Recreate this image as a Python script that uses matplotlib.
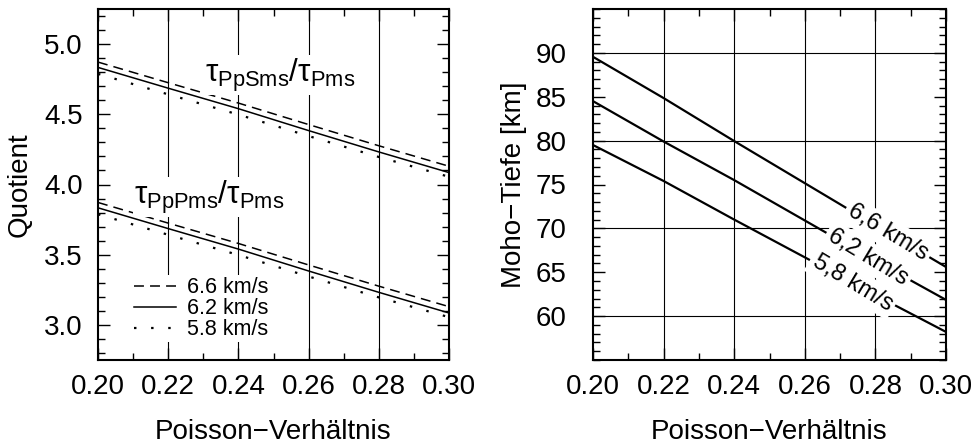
import matplotlib
matplotlib.use("Agg")
import matplotlib.pyplot as plt
import numpy as np
from matplotlib.ticker import MultipleLocator, FormatStrFormatter

plt.rcParams['font.family'] = ['Liberation Sans', 'DejaVu Sans']
plt.rcParams['mathtext.fontset'] = 'custom'
plt.rcParams['mathtext.rm'] = 'Liberation Sans'
plt.rcParams['mathtext.it'] = 'Liberation Sans:italic'
plt.rcParams['mathtext.bf'] = 'Liberation Sans:bold'

# ---------------- data ----------------
poisson = [0.20, 0.22, 0.24, 0.26, 0.28, 0.30]

# left panel: quotients
ppsms_66 = [4.872, 4.725, 4.580, 4.427, 4.276, 4.130]
ppsms_62 = [4.834, 4.686, 4.540, 4.384, 4.232, 4.085]
ppsms_58 = [4.788, 4.642, 4.498, 4.345, 4.196, 4.055]
pppms_66 = [3.872, 3.725, 3.580, 3.427, 3.276, 3.130]
pppms_62 = [3.834, 3.686, 3.540, 3.384, 3.232, 3.085]
pppms_58 = [3.788, 3.642, 3.498, 3.345, 3.196, 3.055]
legend_labels = ['6.6 km/s', '6.2 km/s', '5.8 km/s']

# right panel: Moho depth
moho_66 = [89.55, 84.85, 79.95, 75.15, 70.35, 65.6]
moho_62 = [84.5, 79.9, 75.5, 70.9, 66.3, 61.85]
moho_58 = [79.5, 75.4, 71.0, 66.7, 62.4, 58.2]
moho_labels = ['6,6 km/s', '6,2 km/s', '5,8 km/s']
moho_label_x = [0.2835, 0.278, 0.2735]
grid_y_right = [60, 70, 80, 90]

xticks = [0.20, 0.22, 0.24, 0.26, 0.28, 0.30]

# ---------------- figure ----------------
fig = plt.figure(figsize=(9.75, 4.45), dpi=100)
W, H = 975, 445
ax1 = fig.add_axes([98 / W, 85 / H, 351 / W, 351 / H])
ax2 = fig.add_axes([593 / W, 85 / H, 353 / W, 351 / H])

TICKFS = 20
dash_ls = (0, (6.5, 4))
dot_ls = (0, (1.1, 6.6))
lw = 1.1


def style_axes(ax, ypad):
    ax.set_xlim(0.20, 0.30)
    ax.set_xticks(xticks)
    ax.xaxis.set_minor_locator(MultipleLocator(0.01))
    ax.xaxis.set_major_formatter(FormatStrFormatter('%.2f'))
    ax.tick_params(which='both', direction='in', top=True, right=True,
                   width=1.0, colors='black')
    ax.tick_params(which='major', length=8.6, labelsize=TICKFS)
    ax.tick_params(which='minor', length=5)
    ax.tick_params(axis='x', which='major', pad=10)
    ax.tick_params(axis='y', which='major', pad=ypad)
    for s in ax.spines.values():
        s.set_linewidth(1.5)
    for xv in xticks[1:-1]:
        ax.axvline(xv, color='black', lw=0.8, zorder=0.5)
    ax.set_xlabel('Poisson\u2212Verhältnis', fontsize=TICKFS, labelpad=14)


# ---- left panel ----
style_axes(ax1, 11)
ax1.set_ylim(2.75, 5.25)
ax1.yaxis.set_major_locator(MultipleLocator(0.5))
ax1.yaxis.set_minor_locator(MultipleLocator(0.1))
ax1.yaxis.set_major_formatter(FormatStrFormatter('%.1f'))

h66, = ax1.plot(poisson, ppsms_66, color='black', lw=lw, ls=dash_ls)
h62, = ax1.plot(poisson, ppsms_62, color='black', lw=lw, ls='-')
h58, = ax1.plot(poisson, ppsms_58, color='black', lw=lw + 0.5, ls=dot_ls)
ax1.plot(poisson, pppms_66, color='black', lw=lw, ls=dash_ls)
ax1.plot(poisson, pppms_62, color='black', lw=lw, ls='-')
ax1.plot(poisson, pppms_58, color='black', lw=lw + 0.5, ls=dot_ls)

ax1.text(0.2518, 4.78, r'$\mathrm{\tau_{PpSms}/\tau_{Pms}}$', fontsize=22.5,
         ha='center', va='center', zorder=5,
         bbox=dict(boxstyle='square,pad=0.05', fc='white', ec='none'))
ax1.text(0.2318, 3.91, r'$\mathrm{\tau_{PpPms}/\tau_{Pms}}$', fontsize=22.5,
         ha='center', va='center', zorder=5,
         bbox=dict(boxstyle='square,pad=0.05', fc='white', ec='none'))

leg = ax1.legend([h66, h62, h58], legend_labels, loc='lower left',
                 bbox_to_anchor=(0.097, 0.05), fontsize=15.5, frameon=True,
                 fancybox=False, framealpha=1, edgecolor='none',
                 facecolor='white', handlelength=1.95, handletextpad=0.5,
                 labelspacing=0.0, borderpad=0.1, borderaxespad=0)
leg.set_zorder(5)
ax1.set_ylabel('Quotient', fontsize=TICKFS, labelpad=8)

# ---- right panel ----
style_axes(ax2, 19)
ax2.set_ylim(55, 95)
ax2.yaxis.set_minor_locator(MultipleLocator(1))
ax2.set_yticks([60, 65, 70, 75, 80, 85, 90])
for yv in grid_y_right:
    ax2.axhline(yv, color='black', lw=0.8, zorder=0.5)

for vals, lab, lx in zip([moho_66, moho_62, moho_58], moho_labels, moho_label_x):
    ax2.plot(poisson, vals, color='black', lw=1.6, zorder=2)
    ly = float(np.interp(lx, poisson, vals))
    ax2.text(lx, ly, lab, fontsize=17, rotation=-31, rotation_mode='anchor',
             ha='center', va='center', zorder=5,
             bbox=dict(boxstyle='square,pad=0.15', fc='white', ec='none'))

ax2.set_ylabel('Moho\u2212Tiefe [km]', fontsize=TICKFS, labelpad=6)

fig.savefig('out.png', dpi=100)
